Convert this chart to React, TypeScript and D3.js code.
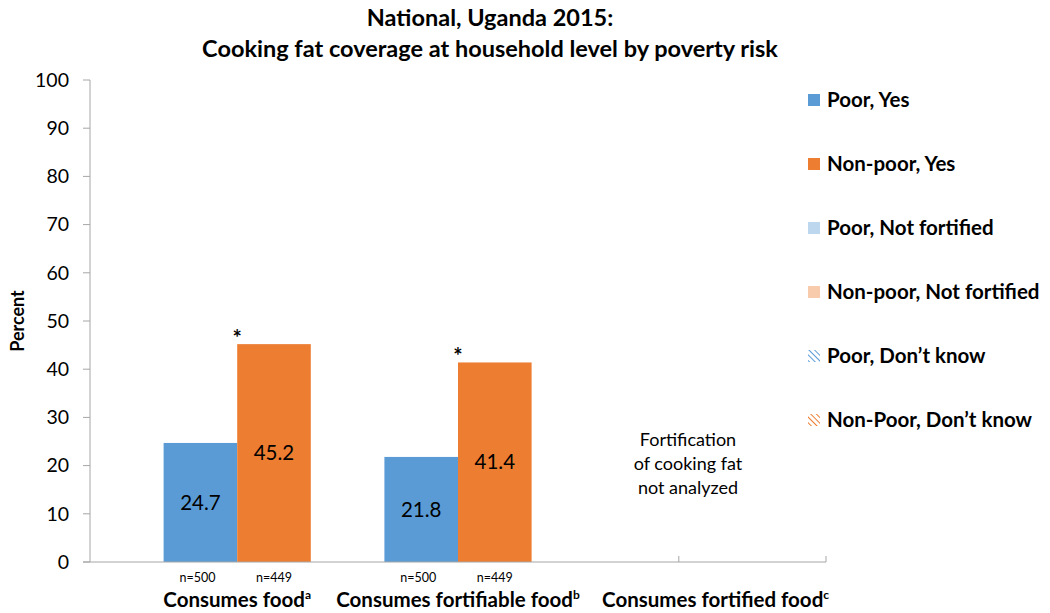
import * as d3 from "d3";

const categories = ["Consumes food", "Consumes fortifiable food", "Consumes fortified food"];
const categorySup = ["a", "b", "c"];
const poorYes = [24.7, 21.8, null];
const nonPoorYes = [45.2, 41.4, null];
const poorN = ["n=500", "n=500", ""];
const nonPoorN = ["n=449", "n=449", ""];
const significant = [true, true, false];
const yTicks = [0, 10, 20, 30, 40, 50, 60, 70, 80, 90, 100];
const legendLabels = [
  "Poor, Yes",
  "Non-poor, Yes",
  "Poor, Not fortified",
  "Non-poor, Not fortified",
  "Poor, Don\u2019t know",
  "Non-Poor, Don\u2019t know",
];
const noteLines = ["Fortification", "of cooking fat", "not analyzed"];

const W = 1050;
const H = 613;
const FONT = "Lato, 'Open Sans', sans-serif";
const BLUE = "#5B9BD5";
const ORANGE = "#ED7D31";
const AXIS = "#A6A6A6";

// slot layout: blank | poor | non-poor | blank | poor | non-poor | ...
const SLOTS = 10;
const labelSlot = [2, 5, 8.5];
const tickSlots = [8, 10];

export default function App() {
  const x = d3.scaleLinear().domain([0, SLOTS]).range([90, 826]);
  const y = d3.scaleLinear().domain([0, 100]).range([562, 80]);
  const bw = x(1) - x(0);

  const legendFill = [BLUE, ORANGE, "#BDD7EE", "#F8CBAD", "url(#hatchBlue)", "url(#hatchOrange)"];

  return (
    <svg width={W} height={H} style={{ position: "absolute", left: 0, top: 0 }} fontFamily={FONT}>
      <defs>
        <pattern id="hatchBlue" width="4" height="4" patternUnits="userSpaceOnUse" patternTransform="rotate(-45)">
          <rect width="4" height="4" fill="#fff" />
          <line x1="0" y1="0" x2="0" y2="4" stroke={BLUE} strokeWidth="2" />
        </pattern>
        <pattern id="hatchOrange" width="4" height="4" patternUnits="userSpaceOnUse" patternTransform="rotate(-45)">
          <rect width="4" height="4" fill="#fff" />
          <line x1="0" y1="0" x2="0" y2="4" stroke={ORANGE} strokeWidth="2" />
        </pattern>
      </defs>
      <rect width={W} height={H} fill="#fff" />

      {/* title */}
      <text x={490} y={26} textAnchor="middle" fontSize={23.5} fontWeight="bold">
        National, Uganda 2015:
      </text>
      <text x={490} y={57} textAnchor="middle" fontSize={23.5} fontWeight="bold">
        Cooking fat coverage at household level by poverty risk
      </text>

      {/* y axis */}
      <line x1={x(0)} x2={x(0)} y1={y(0)} y2={y(100)} stroke={AXIS} />
      {yTicks.map((t) => (
        <g key={t}>
          <line x1={x(0) - 7} x2={x(0)} y1={y(t)} y2={y(t)} stroke={AXIS} />
          <text x={69} y={y(t)} dy="0.35em" textAnchor="end" fontSize={19.5}>
            {t}
          </text>
        </g>
      ))}
      <text
        transform={`translate(24,${(y(0) + y(100)) / 2}) rotate(-90)`}
        textAnchor="middle"
        fontSize={18}
        fontWeight="bold"
      >
        Percent
      </text>

      {/* bars */}
      {categories.map((c, i) => {
        const s = 1 + 3 * i;
        const p = poorYes[i];
        const np = nonPoorYes[i];
        return (
          <g key={c}>
            {p != null && (
              <>
                <rect x={x(s)} y={y(p)} width={bw} height={y(0) - y(p)} fill={BLUE} />
                <text x={x(s) + bw / 2} y={(y(0) + y(p)) / 2} dy="0.35em" textAnchor="middle" fontSize={20.5}>
                  {p.toFixed(1)}
                </text>
              </>
            )}
            {np != null && (
              <>
                <rect x={x(s + 1)} y={y(np)} width={bw} height={y(0) - y(np)} fill={ORANGE} />
                <text x={x(s + 1) + bw / 2} y={(y(0) + y(np)) / 2} dy="0.35em" textAnchor="middle" fontSize={20.5}>
                  {np.toFixed(1)}
                </text>
                {significant[i] && (
                  <text x={x(s + 1)} y={y(np) + 2} textAnchor="middle" fontSize={22} fontWeight="bold">
                    *
                  </text>
                )}
              </>
            )}
            <text x={x(s) + bw / 2 - 3} y={582} textAnchor="middle" fontSize={12.5}>
              {poorN[i]}
            </text>
            <text x={x(s + 1) + bw / 2} y={582} textAnchor="middle" fontSize={12.5}>
              {nonPoorN[i]}
            </text>
            <text x={x(labelSlot[i])} y={607} textAnchor="middle" fontSize={20.5} fontWeight="bold">
              {c}
              <tspan fontSize={12} dy={-8}>
                {categorySup[i]}
              </tspan>
            </text>
          </g>
        );
      })}

      {/* x axis */}
      <line x1={x(0) - 7} x2={x(SLOTS)} y1={y(0)} y2={y(0)} stroke={AXIS} />
      {tickSlots.map((t) => (
        <line key={t} x1={x(t)} x2={x(t)} y1={y(0)} y2={y(0) - 6} stroke={AXIS} />
      ))}

      {/* note */}
      {noteLines.map((l, i) => (
        <text key={l} x={688} y={446 + i * 24} textAnchor="middle" fontSize={18}>
          {l}
        </text>
      ))}

      {/* legend */}
      {legendLabels.map((l, i) => {
        const ly = 100 + i * 64;
        return (
          <g key={l}>
            <rect x={808} y={ly - 6} width={12} height={12} fill={legendFill[i]} />
            <text x={827} y={ly} dy="0.35em" fontSize={20.5} fontWeight="bold">
              {l}
            </text>
          </g>
        );
      })}
    </svg>
  );
}
